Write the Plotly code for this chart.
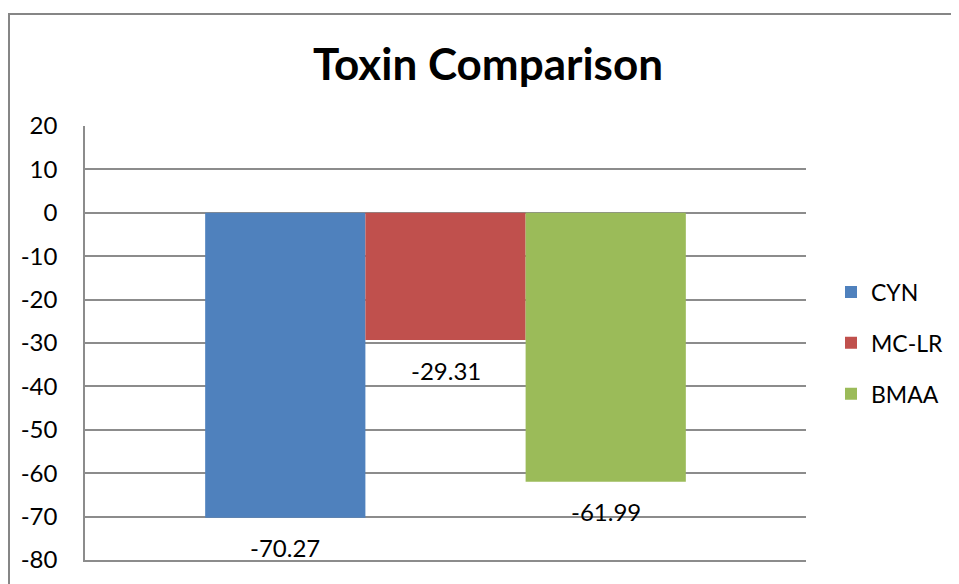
import plotly.graph_objects as go

title_text = "Toxin Comparison"
series_names = ["CYN", "MC-LR", "BMAA"]
series_values = [-70.27, -29.31, -61.99]
series_colors = ["#4F81BD", "#C0504D", "#9BBB59"]
category = ["Toxins"]
y_ticks = [20, 10, 0, -10, -20, -30, -40, -50, -60, -70, -80]

FONT = "Lato, 'Open Sans', sans-serif"
bargap = 1.5 / 4.5

fig = go.Figure()
for i, (name, val, col) in enumerate(zip(series_names, series_values, series_colors)):
    fig.add_trace(go.Bar(
        x=category, y=[val], name=name, marker=dict(color=col, line=dict(width=0)),
        legendgroup=name, hoverinfo="skip",
    ))

# data labels below bar ends
n = len(series_names)
bw = (1 - bargap) / n
for i, val in enumerate(series_values):
    cx = -(1 - bargap) / 2 + (i + 0.5) * bw
    fig.add_annotation(
        x=cx, y=val, xref="x", yref="y", text=f"{val:.2f}", showarrow=False,
        yanchor="middle", xanchor="center", yshift=-30,
        font=dict(family=FONT, size=24, color="#000000"),
    )

# page has an 8px body margin, so figure coords = page coords - 8
OFF = 8
W, H = 959 - OFF, 584 - OFF
ml, mt = 85 - OFF, 126 - OFF
mr = W - (806 - OFF)
mb = H - (560 - OFF)
pw = W - ml - mr
ph = H - mt - mb

# chart-area border
fig.add_shape(
    type="rect", xref="paper", yref="paper",
    x0=(8 - OFF + 1 - ml) / pw, x1=(W + 30 - ml) / pw,
    y0=(H - mb - (H + 30)) / ph, y1=(H - mb - (14 - OFF)) / ph,
    line=dict(color="#868686", width=2), fillcolor="rgba(0,0,0,0)", layer="below",
)

fig.update_layout(
    width=W, height=H,
    margin=dict(l=ml, r=mr, t=mt, b=mb, pad=0, autoexpand=False),
    paper_bgcolor="white", plot_bgcolor="white",
    barmode="group", bargap=bargap, bargroupgap=0,
    title=dict(text=f"<b>{title_text}</b>", x=(488 - OFF) / W, xanchor="center",
               y=1 - (65 - OFF) / H, yanchor="middle",
               font=dict(family=FONT, size=44, color="#000000")),
    font=dict(family=FONT, color="#000000"),
    showlegend=True,
    legend=dict(x=(831 - 85) / pw, xanchor="left", y=0.5, yanchor="middle",
                font=dict(family=FONT, size=23, color="#000000"),
                tracegroupgap=18, bgcolor="rgba(0,0,0,0)"),
    xaxis=dict(showticklabels=False, showgrid=False, showline=True,
               linecolor="#8c8c8c", linewidth=1.5, zeroline=False,
               ticks="", fixedrange=True, automargin=False),
    yaxis=dict(range=[-80, 20], tickvals=y_ticks, ticktext=[str(t) for t in y_ticks],
               showgrid=True, gridcolor="#8c8c8c", gridwidth=1.5,
               showline=True, linecolor="#8c8c8c", linewidth=1.5,
               zeroline=False, ticks="", ticklabelstandoff=21, automargin=False,
               tickfont=dict(family=FONT, size=24, color="#000000")),
)

fig.write_html("out.html")
